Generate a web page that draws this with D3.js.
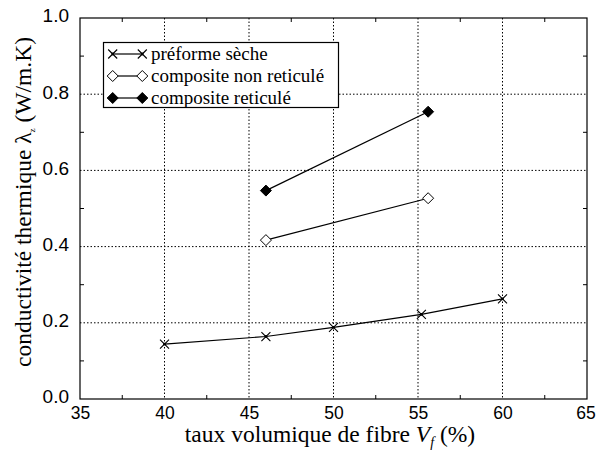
<!DOCTYPE html>
<html><head><meta charset="utf-8">
<script src="https://cdn.jsdelivr.net/npm/d3@7"></script>
<style>body{margin:0;background:#fff}svg{display:block}
.serif{font-family:'Liberation Serif','Times New Roman',Times,serif}
.sans{font-family:'Liberation Sans',Arial,Helvetica,sans-serif}</style>
</head><body><svg id="c" width="596" height="454"></svg>
<script>
const xTicks = [35, 40, 45, 50, 55, 60, 65];
const yTicks = [0.0, 0.2, 0.4, 0.6, 0.8, 1.0];
const seriesNames = ["préforme sèche", "composite non reticulé", "composite reticulé"];
const preformeX = [40, 46, 50, 55.2, 60];
const preformeY = [0.144, 0.164, 0.188, 0.222, 0.263];
const nonRetX = [46, 55.6];
const nonRetY = [0.417, 0.527];
const retX = [46, 55.6];
const retY = [0.547, 0.754];

const svg = d3.select("#c");
const L = 80, R = 587, T = 18, B = 399;
const x = d3.scaleLinear().domain([35, 65]).range([L, R]);
const y = d3.scaleLinear().domain([0, 1]).range([B, T]);

// grid
const g = svg.append("g");
g.selectAll(".gx").data(xTicks.slice(1, -1)).enter().append("line")
  .attr("x1", d => x(d)).attr("x2", d => x(d)).attr("y1", T).attr("y2", B)
  .attr("stroke", "#000").attr("stroke-width", 1).attr("stroke-dasharray", "1.5,2");
g.selectAll(".gy").data(yTicks.slice(1, -1)).enter().append("line")
  .attr("y1", d => y(d)).attr("y2", d => y(d)).attr("x1", L).attr("x2", R)
  .attr("stroke", "#000").attr("stroke-width", 1).attr("stroke-dasharray", "1.5,2");

// minor ticks
const xMinor = d3.range(37.5, 65, 5);
const yMinor = d3.range(0.1, 1, 0.2);
xMinor.forEach(v => {
  svg.append("line").attr("x1", x(v)).attr("x2", x(v)).attr("y1", B).attr("y2", B - 4).attr("stroke", "#000");
  svg.append("line").attr("x1", x(v)).attr("x2", x(v)).attr("y1", T).attr("y2", T + 4).attr("stroke", "#000");
});
yMinor.forEach(v => {
  svg.append("line").attr("y1", y(v)).attr("y2", y(v)).attr("x1", L).attr("x2", L + 4).attr("stroke", "#000");
  svg.append("line").attr("y1", y(v)).attr("y2", y(v)).attr("x1", R).attr("x2", R - 4).attr("stroke", "#000");
});

// frame
svg.append("rect").attr("x", L).attr("y", T).attr("width", R - L).attr("height", B - T)
  .attr("fill", "none").attr("stroke", "#000").attr("stroke-width", 1.2);

// axes labels via d3 axes
const xAxis = svg.append("g").attr("transform", `translate(0,${B})`)
  .call(d3.axisBottom(x).tickValues(xTicks).tickSize(0).tickPadding(3).tickFormat(d3.format("d")));
xAxis.select(".domain").remove();
xAxis.attr("font-family", null).attr("font-size", null);
xAxis.selectAll("text").attr("class", "sans").attr("font-size", 17.5).attr("fill", "#000").attr("dy", "0.95em")
  .attr("dx", d => d === 65 ? -1.5 : 0);
const yAxis = svg.append("g").attr("transform", `translate(${L},0)`)
  .call(d3.axisLeft(y).tickValues(yTicks).tickSize(0).tickPadding(11).tickFormat(d3.format(".1f")));
yAxis.select(".domain").remove();
yAxis.attr("font-family", null).attr("font-size", null);
yAxis.selectAll("text").attr("class", "sans").attr("font-size", 19).attr("fill", "#000").attr("dy", "0.2em");

// axis titles
const xt = svg.append("text").attr("class", "serif").attr("x", 330).attr("y", 442).attr("text-anchor", "middle")
  .attr("font-size", 23.5).attr("fill", "#000");
xt.append("tspan").text("taux volumique de fibre ");
xt.append("tspan").attr("font-style", "italic").text("V");
xt.append("tspan").attr("font-style", "italic").attr("font-size", 14).attr("dy", 5).text("f");
xt.append("tspan").attr("dy", -5).text(" (%)");

const yt = svg.append("text").attr("class", "serif").attr("transform", `translate(31,202) rotate(-90)`).attr("text-anchor", "middle")
  .attr("font-size", 23.5).attr("fill", "#000");
yt.append("tspan").text("conductivité thermique  λ");
yt.append("tspan").attr("font-size", 9).attr("dy", 4).text("z");
yt.append("tspan").attr("dy", -4).text(" (W/m.K)");

// series
const line = d3.line().x(d => x(d[0])).y(d => y(d[1]));
const sets = [
  {name: seriesNames[0], pts: preformeX.map((v, i) => [v, preformeY[i]]), m: "cross"},
  {name: seriesNames[1], pts: nonRetX.map((v, i) => [v, nonRetY[i]]), m: "open"},
  {name: seriesNames[2], pts: retX.map((v, i) => [v, retY[i]]), m: "filled"}
];
function marker(sel, type, cx, cy) {
  if (type === "cross") {
    const s = 4.5;
    sel.append("path").attr("d", `M${cx - s},${cy - s}L${cx + s},${cy + s}M${cx - s},${cy + s}L${cx + s},${cy - s}`)
      .attr("stroke", "#000").attr("stroke-width", 1.1).attr("fill", "none");
    sel.append("circle").attr("cx", cx).attr("cy", cy).attr("r", 1.4).attr("fill", "#000");
  } else {
    const s = 5.5;
    sel.append("path").attr("d", `M${cx},${cy - s}L${cx + s},${cy}L${cx},${cy + s}L${cx - s},${cy}Z`)
      .attr("stroke", "#000").attr("stroke-width", 1).attr("fill", type === "filled" ? "#000" : "#fff");
  }
}
sets.forEach(s => {
  svg.append("path").datum(s.pts).attr("d", line).attr("fill", "none").attr("stroke", "#000").attr("stroke-width", 1.2);
  const mg = svg.append("g");
  s.pts.forEach(p => marker(mg, s.m, x(p[0]), y(p[1])));
});

// legend
const lg = svg.append("g");
lg.append("rect").attr("x", 103.5).attr("y", 42.5).attr("width", 235).attr("height", 65)
  .attr("fill", "#fff").attr("stroke", "#000").attr("stroke-width", 1.2);
sets.forEach((s, i) => {
  const yy = 54 + i * 22;
  lg.append("line").attr("x1", 112.7).attr("x2", 142.3).attr("y1", yy).attr("y2", yy).attr("stroke", "#000").attr("stroke-width", 1.2);
  marker(lg, s.m, 112.7, yy);
  marker(lg, s.m, 142.3, yy);
  lg.append("text").attr("class", "serif").attr("x", 151).attr("y", yy + 6).text(s.name)
    .attr("font-size", 19).attr("fill", "#000");
});
</script></body></html>
